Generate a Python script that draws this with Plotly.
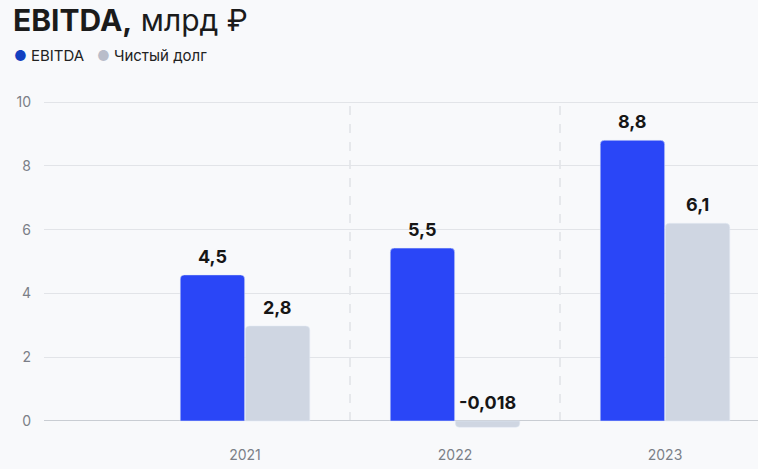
import plotly.graph_objects as go

years = [2021, 2022, 2023]
ebitda_labels = ["4,5", "5,5", "8,8"]
debt_labels = ["2,8", "-0,018", "6,1"]
# bar heights as drawn in the picture
ebitda_values = [4.58, 5.42, 8.8]
debt_values = [2.98, -0.2, 6.2]
series_names = ["EBITDA", "Чистый долг"]
y_ticks = [0, 2, 4, 6, 8, 10]

BLUE = "#2a46f7"
GREY = "#cfd6e2"
DOT_BLUE = "#1240c0"
DOT_GREY = "#b9bdca"
FONT = "Inter"
W, H = 758, 469
L, R, T, B = 44, 0, 95, 29

fig = go.Figure()
fig.add_trace(go.Bar(x=years, y=ebitda_values, name=series_names[0], marker_color=BLUE,
                     showlegend=False, hoverinfo="skip"))
fig.add_trace(go.Bar(x=years, y=debt_values, name=series_names[1], marker_color=GREY,
                     showlegend=False, hoverinfo="skip"))

bargap = 0.38
half = (1 - bargap) / 4
label_font = dict(family=FONT, size=18, color="#161616", weight=700)
annotations = []
for yr, v, t in zip(years, ebitda_values, ebitda_labels):
    annotations.append(dict(x=yr - half, y=max(v, 0), text=t, showarrow=False, yanchor="bottom",
                            yshift=6, font=label_font))
for yr, v, t in zip(years, debt_values, debt_labels):
    annotations.append(dict(x=yr + half, y=max(v, 0), text=t, showarrow=False, yanchor="bottom",
                            yshift=6, font=label_font))

# legend row (dot + name for each series)
legend_text = (
    f'<span style="color:{DOT_BLUE};font-size:14px">●</span>&nbsp;{series_names[0]}'
    f'&nbsp;&nbsp;&nbsp;<span style="color:{DOT_GREY};font-size:14px">●</span>&nbsp;{series_names[1]}'
)
annotations.append(dict(xref="paper", yref="paper", x=(12 - L) / (W - L - R), xanchor="left",
                        y=1 + (T - 56) / (H - T - B), yanchor="middle", text=legend_text,
                        showarrow=False, font=dict(family=FONT, size=15, color="#222222")))

shapes = []
for i in range(len(years) - 1):
    xm = (years[i] + years[i + 1]) / 2
    shapes.append(dict(type="line", x0=xm, x1=xm, y0=0, y1=y_ticks[-1], xref="x", yref="y",
                       line=dict(color="#d4d7dc", width=1, dash="dash"), layer="below"))

plot_w = W - L - R
px_per_year = 210
x_left = years[0] - (245 - L) / px_per_year
x_right = x_left + plot_w / px_per_year

fig.update_layout(
    width=W, height=H,
    margin=dict(l=L, r=R, t=T, b=B),
    paper_bgcolor="#f8f9fb", plot_bgcolor="#f8f9fb",
    barmode="group", bargap=bargap, bargroupgap=0.01, barcornerradius=4,
    font=dict(family=FONT, color="#7b7f87", size=14),
    showlegend=False,
    title=dict(text="<b>EBITDA,</b> млрд ₽", x=13 / W, xanchor="left", xref="container",
               y=1 - 20 / H, yanchor="middle", yref="container",
               font=dict(family=FONT, size=30, color="#1b1b1b")),
    xaxis=dict(range=[x_left, x_right], tickvals=years, ticktext=[str(y) for y in years],
               showgrid=False, zeroline=False, showline=False, ticks="", ticklabelstandoff=5,
               tickfont=dict(family=FONT, size=14, color="#7b7f87"), fixedrange=True),
    yaxis=dict(range=[-0.596, 10.22], tickvals=y_ticks, showgrid=True, gridcolor="#e2e4e8",
               gridwidth=1, zeroline=True, zerolinecolor="#c9cdd3", zerolinewidth=1,
               showline=False, ticks="", ticklabelstandoff=12,
               tickfont=dict(family=FONT, size=14, color="#7b7f87"), fixedrange=True),
    annotations=annotations,
    shapes=shapes,
)

fig.write_html("out.html", config={"displayModeBar": False})
